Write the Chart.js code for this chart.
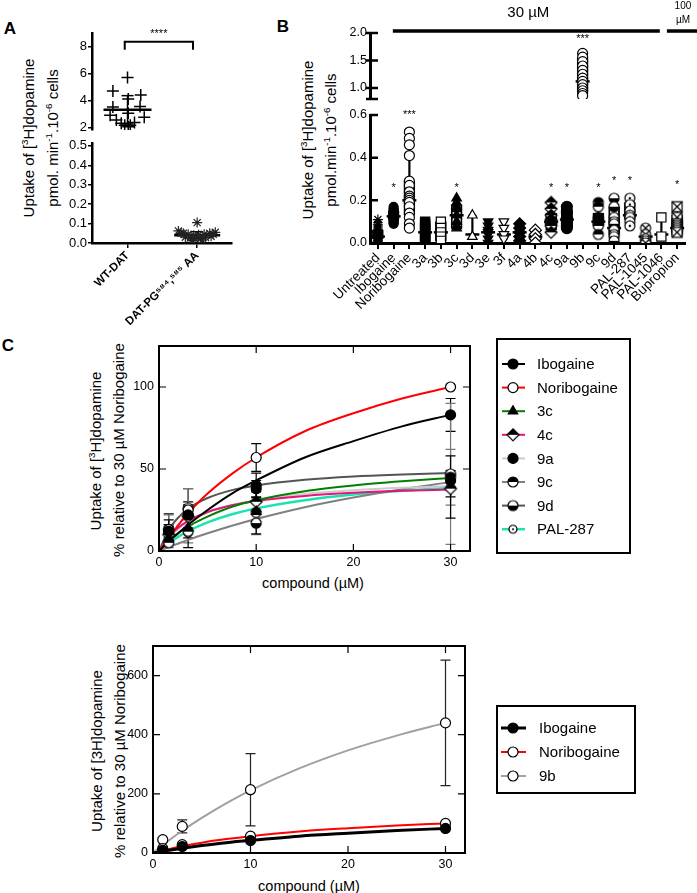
<!DOCTYPE html>
<html><head><meta charset="utf-8">
<script src="https://cdn.jsdelivr.net/npm/chart.js@4.4.1/dist/chart.umd.min.js"></script>
<style>
html,body{margin:0;padding:0;background:#fff;}
#fig{position:relative;width:697px;height:893px;overflow:hidden;background:#fff;font-family:"Liberation Sans",Arial,sans-serif;color:#000;}
canvas{position:absolute;}
.t{position:absolute;white-space:nowrap;line-height:1;transform:translate(-50%,-50%);}
.v{position:absolute;white-space:nowrap;line-height:1;transform:translate(-50%,-50%) rotate(-90deg);font-size:15px;}
.p{font-weight:bold;font-size:17px;}
sup{font-size:0.65em;vertical-align:0.55em;line-height:0;}
</style></head><body><div id="fig">
<div class="t p" style="left:10px;top:28px">A</div>
<div class="t p" style="left:283px;top:26px">B</div>
<div class="t p" style="left:8px;top:345px">C</div>
<div class="v" style="left:28px;top:138px">Uptake of [<sup>3</sup>H]dopamine</div>
<div class="v" style="left:52px;top:138px">pmol. min<sup>-1</sup>.10<sup>-6</sup> cells</div>
<div class="v" style="left:307px;top:140px">Uptake of [<sup>3</sup>H]dopamine</div>
<div class="v" style="left:330px;top:140px">pmol.min<sup>-1</sup>.10<sup>-6</sup> cells</div>
<div class="v" style="left:95px;top:451px">Uptake of [<sup>3</sup>H]dopamine</div>
<div class="v" style="left:118px;top:450px">% relative to 30 µM Noribogaine</div>
<div class="t" style="left:313px;top:583px;font-size:14.5px">compound (µM)</div>
<div class="v" style="left:96px;top:751px">Uptake of [3H]dopamine</div>
<div class="v" style="left:119px;top:751px">% relative to 30 µM Noribogaine</div>
<div class="t" style="left:309px;top:886px;font-size:14.5px">compound (µM)</div>
</div>
<script>
// ================= DATA =================
// ---- Panel A ----
const aCats = ['WT-DAT', 'DAT-PG⁵⁸⁴,⁵⁸⁵ AA'];
const wtX = [1.00,0.79,1.19,1.01,0.79,1.18,1.01,0.75,1.24,0.84,0.91,1.10,0.96,1.04,1.01];
const wtY = [5.7,4.7,4.4,4.1,3.5,3.55,3.05,2.9,2.75,2.55,2.3,2.35,2.15,2.15,2.05];
const datX = [1.73,1.80,1.87,1.95,2.02,2.10,2.18,2.26,1.83,1.90,1.97,2.05,2.12,2.20,1.93,2.00,2.07,1.77,2.23];
const datY = [0.062,0.05,0.045,0.04,0.042,0.045,0.05,0.055,0.03,0.025,0.02,0.022,0.028,0.035,0.012,0.105,0.015,0.05,0.045];
const aMean = [3.3, 0.04];
const aSdLo = [2.25, 0.025];
const aSdHi = [4.35, 0.058];
const aUpTicks = [2,4,6,8];
const aLoTicks = [0,0.1,0.2,0.3,0.4,0.5];

// ---- Panel B ----
const bCats = ['Untreated','Ibogaine','Noribogaine','3a','3b','3c','3d','3e','3f','4a','4b','4c','9a','9b','9c','9d','PAL-287','PAL-1045','PAL-1046','Bupropion'];
const ptsUntreated = [0.11,0.095,0.085,0.075,0.065,0.06,0.05,0.045,0.04,0.035,0.03,0.03,0.025,0.02,0.015,0.01,0.005,0];
const ptsIbogaine = [0.17,0.16,0.155,0.15,0.145,0.14,0.135,0.13,0.125,0.12,0.115,0.11,0.105,0.1,0.095,0.09];
const ptsNoribogaine = [0.52,0.49,0.46,0.41,0.29,0.27,0.24,0.22,0.21,0.2,0.19,0.17,0.14,0.12,0.09,0.07];
const pts3a = [0.1,0.09,0.08,0.07,0.06,0.05,0.04,0.03,0.02,0.01,0];
const pts3b = [0.1,0.07,0.05,0.03,0.01];
const pts3c = [0.21,0.19,0.17,0.16,0.13,0.1,0.08,0.07];
const pts3d = [0.13,0.03];
const pts3e = [0.1,0.08,0.06,0.05,0.04,0.02,0];
const pts3f = [0.1,0.07,0.04,0.02];
const pts4a = [0.09,0.07,0.05,0.03,0.01];
const pts4b = [0.06,0.04,0.02,0];
const pts4c = [0.19,0.16,0.13,0.11,0.1,0.09,0.08,0.05];
const pts9a = [0.17,0.15,0.14,0.12,0.1,0.09,0.08,0.07];
const pts9b = [1.63,1.56,1.48,1.4,1.32,1.25,1.18,1.12,1.06,1.0,0.95,0.9,0.86];
const pts9c = [0.19,0.17,0.12,0.11,0.1,0.09,0.08,0.04];
const pts9d = [0.21,0.17,0.12,0.1,0.09,0.06,0.04,0.03,0.01];
const ptsPAL287 = [0.21,0.18,0.15,0.13,0.12,0.1,0.08];
const ptsPAL1045 = [0.07,0.04,0.02,0.01,0];
const ptsPAL1046 = [0.12,0.03];
const ptsBupropion = [0.17,0.12,0.09,0.08,0.07,0.06,0.05];
const bPts = [ptsUntreated,ptsIbogaine,ptsNoribogaine,pts3a,pts3b,pts3c,pts3d,pts3e,pts3f,pts4a,pts4b,pts4c,pts9a,pts9b,pts9c,pts9d,ptsPAL287,ptsPAL1045,ptsPAL1046,ptsBupropion];
const bMed   = [0.03,0.125,0.2,0.05,0.05,0.13,0.04,0.05,0.04,0.05,0.03,0.1,0.11,1.12,0.1,0.07,0.13,0.03,0.04,0.07];
const bWhLo  = [0,0.09,0.07,0,0.01,0.07,0.04,0,0.02,0.01,0,0.04,0.07,0.86,0.04,0.01,0.08,0,0.04,0.05];
const bWhHi  = [0.1,0.17,0.52,0.1,0.1,0.2,0.13,0.1,0.1,0.09,0.06,0.19,0.17,1.63,0.19,0.21,0.21,0.07,0.12,0.17];
const bBoxLo = [0.02,0.11,0.13,null,0.01,0.07,null,null,null,null,null,0.06,0.08,0.93,0.08,0.04,0.11,null,null,0.05];
const bBoxHi = [0.06,0.15,0.29,null,0.1,0.18,null,null,null,null,null,0.14,0.14,1.55,0.14,0.17,0.19,null,null,0.13];
const bSig   = ['','*','***','','','*','','','','','','*','*','***','*','*','*','','','*'];
const bSigY  = [null,0.26,0.6,null,null,0.26,null,null,null,null,null,0.26,0.26,1.9,0.26,0.29,0.29,null,null,0.27];
const bUpTicks = [0.8,1.0,1.5,2.0];
const bLoTicks = [0,0.2,0.4,0.6];

// ---- Panel C ----
const cNames = ['Ibogaine','Noribogaine','3c','4c','9a','9c','9d','PAL-287'];
const cX = [1,3,10,30];
const cIbo = [12,22,40,83];     const eIbo = [4,6,7.5,10];
const cNori = [13,25,57,100];   const eNori = [9.6,13,8.5,0];
const c3c = [8,14,24,44];       const e3c = [4,6,6,5];
const c4c = [10,21,30,38];      const e4c = [5,7,6,5];
const c9a = [11,22,38,43];      const e9a = [5,8,5,4];
const c9c = [5,12,23.5,45];     const e9c = [3,7,6,17];
const c9d = [13,26,17,47];      const e9d = [9,12,7,43];
const cPal = [13,11,16.5,39];   const ePal = [6,9,6,19];
const fitX = [0,1,2,3,5,7.5,10,15,20,25,30];
const fIbo = [0,6,11,16,25,35,43,57,67,76,83];
const fNori = [0,8,16,23,35,47,57,73,84,93,100];
const f3c = [0,6,11,15,21,27,31,36.5,40,42.5,44.5];
const f4c = [0,8.7,14.4,18.4,23.8,27.9,30.5,33.6,35.5,36.7,37.5];
const f9a = [0,8,13.6,17.7,23.5,28,31,34.8,37,38.5,39.5];
const f9c = [0,2.4,4.6,6.8,10.8,15.4,19.5,26.7,32.6,37.7,42];
const f9d = [0,12.8,20.5,25.8,32.3,37.1,40,43.4,45.4,46.6,47.5];
const fPal = [0,4.8,8.8,12.2,17.5,22.4,26,31,34.4,36.7,38.5];
const cXTicks = [0,10,20,30];
const cYTicks = [0,50,100];

// ---- Bottom panel ----
const dNames = ['Ibogaine','Noribogaine','9b'];
const dIbo = [9,22,42,83];
const dNori = [15,28,57,100];
const d9b = [45,90,214,440];   const e9b = [0,22,122,212];
const f9b = [0,26.5,51.6,75.4,119,168,212,286,347,397,440];
const dYTicks = [0,200,400,600];

// ================= HELPERS =================
const FONT = '"Liberation Sans", Arial, sans-serif';
Chart.defaults.font.family = FONT;
Chart.defaults.color = '#000';
Chart.defaults.animation = false;
Chart.defaults.events = [];
Chart.defaults.plugins.legend.display = false;
Chart.defaults.plugins.tooltip.enabled = false;

function mkCanvas(left, top, w, h){
  const c = document.createElement('canvas');
  c.width = w; c.height = h;
  c.style.left = left+'px'; c.style.top = top+'px';
  c.style.width = w+'px'; c.style.height = h+'px';
  document.getElementById('fig').appendChild(c);
  return c;
}
const fixedTicks = vals => s => { s.ticks = vals.map(v => ({value: v})); };
const yFit = w => s => { s.width = w; s.paddingTop = 0; s.paddingBottom = 0; };
const xFit = h => s => { s.height = h; s.paddingLeft = 0; s.paddingRight = 0; };

function ptCanvas(r, draw){
  const s = Math.ceil(2*r + 4);
  const c = document.createElement('canvas'); c.width = s; c.height = s;
  const g = c.getContext('2d'); g.translate(s/2, s/2);
  g.lineWidth = 1.2; g.strokeStyle = '#000';
  draw(g, r); return c;
}
const halfDiamond = ptCanvas(6, (g,r)=>{
  g.beginPath(); g.moveTo(0,-r); g.lineTo(r,0); g.lineTo(0,r); g.lineTo(-r,0); g.closePath(); g.fillStyle='#fff'; g.fill();
  g.beginPath(); g.moveTo(0,-r); g.lineTo(r,0); g.lineTo(-r,0); g.closePath(); g.fillStyle='#000'; g.fill();
  g.beginPath(); g.moveTo(0,-r); g.lineTo(r,0); g.lineTo(0,r); g.lineTo(-r,0); g.closePath(); g.stroke();
});
function halfCirc(topBlack){
  return ptCanvas(5, (g,r)=>{
    g.beginPath(); g.arc(0,0,r,0,2*Math.PI); g.fillStyle='#fff'; g.fill();
    g.beginPath(); if (topBlack) g.arc(0,0,r,Math.PI,2*Math.PI); else g.arc(0,0,r,0,Math.PI); g.closePath(); g.fillStyle='#000'; g.fill();
    g.beginPath(); g.arc(0,0,r,0,2*Math.PI); g.stroke();
  });
}
const halfTop = halfCirc(true), halfBot = halfCirc(false);
const circDot = ptCanvas(5, (g,r)=>{
  g.beginPath(); g.arc(0,0,r,0,2*Math.PI); g.fillStyle='#fff'; g.fill(); g.stroke();
  g.beginPath(); g.arc(0,0,1.2,0,2*Math.PI); g.fillStyle='#000'; g.fill();
});
const circDotSmall = ptCanvas(4, (g,r)=>{
  g.beginPath(); g.arc(0,0,r,0,2*Math.PI); g.fillStyle='#fff'; g.fill(); g.stroke();
  g.beginPath(); g.arc(0,0,1,0,2*Math.PI); g.fillStyle='#000'; g.fill();
});
const circX = ptCanvas(5, (g,r)=>{
  g.beginPath(); g.arc(0,0,r,0,2*Math.PI); g.fillStyle='#fff'; g.fill(); g.stroke();
  const d = r*0.7; g.beginPath(); g.moveTo(-d,-d); g.lineTo(d,d); g.moveTo(d,-d); g.lineTo(-d,d); g.stroke();
});
const sqX = ptCanvas(5, (g,r)=>{
  g.fillStyle='#fff'; g.fillRect(-r,-r,2*r,2*r); g.strokeRect(-r,-r,2*r,2*r);
  g.beginPath(); g.moveTo(-r,-r); g.lineTo(r,r); g.moveTo(r,-r); g.lineTo(-r,r); g.stroke();
});

const bStyle = [
  {ps:'star', fill:'#000', r:5},
  {ps:'circle', fill:'#000', r:4.5},
  {ps:'circle', fill:'#fff', r:5},
  {ps:'rect', fill:'#000', r:6.5},
  {ps:'rect', fill:'#fff', r:6.5},
  {ps:'triangle', fill:'#000', r:5.5},
  {ps:'triangle', fill:'#fff', r:5.5},
  {ps:'triangle', fill:'#000', r:5.5, rot:180},
  {ps:'triangle', fill:'#fff', r:5.5, rot:180},
  {ps:'rectRot', fill:'#000', r:6},
  {ps:'rectRot', fill:'#fff', r:6},
  {ps:halfDiamond, fill:'#000', r:6},
  {ps:'circle', fill:'#000', r:5.5},
  {ps:'circle', fill:'#fff', r:5},
  {ps:halfTop, fill:'#000', r:5},
  {ps:halfBot, fill:'#000', r:5},
  {ps:circDot, fill:'#fff', r:5},
  {ps:circX, fill:'#fff', r:5},
  {ps:'rect', fill:'#fff', r:6.5},
  {ps:sqX, fill:'#fff', r:5}
];

// plugins (factories)
function notes(items){
  return { id:'notes', afterDraw(chart){
    const ctx = chart.ctx, xs = chart.scales.x, ys = chart.scales.y;
    ctx.save();
    items.forEach(it => {
      if (it.type === 'line') {
        ctx.strokeStyle = '#000'; ctx.lineWidth = it.lw || 1.5; ctx.beginPath();
        it.pts.forEach((p,k) => { const X = xs.getPixelForValue(p[0]), Y = ys.getPixelForValue(p[1]); k ? ctx.lineTo(X,Y) : ctx.moveTo(X,Y); });
        ctx.stroke();
      } else {
        ctx.fillStyle = '#000'; ctx.font = it.font; ctx.textAlign = 'center'; ctx.textBaseline = 'middle';
        ctx.fillText(it.text, xs.getPixelForValue(it.x), ys.getPixelForValue(it.y));
      }
    });
    ctx.restore();
  }};
}
function inTicks(cfg){
  return { id:'inTicks', afterDatasetsDraw(chart){
    const ctx = chart.ctx, a = chart.chartArea, xs = chart.scales.x, ys = chart.scales.y;
    ctx.save(); ctx.strokeStyle = '#000';
    if (cfg.frame) { ctx.lineWidth = cfg.frame; ctx.strokeRect(a.left, a.top, a.right-a.left, a.bottom-a.top); }
    ctx.lineWidth = cfg.lw; const L = cfg.len;
    ctx.beginPath();
    if (cfg.sides.includes('l') || cfg.sides.includes('r')) ys.ticks.forEach(t => {
      const y = ys.getPixelForValue(t.value);
      if (cfg.skipEdges && (y >= a.bottom-1 || y <= a.top+1)) return;
      if (cfg.sides.includes('l')) { ctx.moveTo(a.left - (cfg.over||0), y); ctx.lineTo(a.left + L, y); }
      if (cfg.sides.includes('r')) { ctx.moveTo(a.right, y); ctx.lineTo(a.right - L, y); }
    });
    if (cfg.sides.includes('t') || cfg.sides.includes('b')) xs.ticks.forEach(t => {
      const x = xs.getPixelForValue(t.value);
      if (cfg.skipEdges && (x <= a.left+1 || x >= a.right-1)) return;
      if (cfg.sides.includes('b')) { ctx.moveTo(x, a.bottom); ctx.lineTo(x, a.bottom - L); }
      if (cfg.sides.includes('t')) { ctx.moveTo(x, a.top); ctx.lineTo(x, a.top + L); }
    });
    ctx.stroke(); ctx.restore();
  }};
}
const errBars = { id:'errBars', beforeDatasetsDraw(chart){
  const ctx = chart.ctx, xs = chart.scales.x, ys = chart.scales.y;
  chart.data.datasets.forEach(d => {
    if (!d.errors) return;
    ctx.save(); ctx.strokeStyle = d.errColor || '#000'; ctx.lineWidth = 1.2; ctx.beginPath();
    d.data.forEach((p,i) => {
      const e = d.errors[i]; if (!e) return;
      const x = xs.getPixelForValue(p.x), y1 = ys.getPixelForValue(p.y - e), y2 = ys.getPixelForValue(p.y + e);
      ctx.moveTo(x,y1); ctx.lineTo(x,y2);
      ctx.moveTo(x-5,y1); ctx.lineTo(x+5,y1); ctx.moveTo(x-5,y2); ctx.lineTo(x+5,y2);
    });
    ctx.stroke(); ctx.restore();
  });
}};
function drawMarker(ctx, d, x, y){
  ctx.fillStyle = d.pointBackgroundColor || '#000';
  ctx.strokeStyle = d.pointBorderColor || '#000';
  ctx.lineWidth = d.pointBorderWidth || 1.2;
  const opts = {pointStyle: d.pointStyle, radius: d.pointRadius, borderWidth: d.pointBorderWidth || 1.2, rotation: d.pointRotation || 0};
  if (Chart.helpers && Chart.helpers.drawPoint) Chart.helpers.drawPoint(ctx, opts, x, y);
  else { ctx.beginPath(); ctx.arc(x, y, d.pointRadius, 0, 2*Math.PI); ctx.fill(); ctx.stroke(); }
}
function boxLegend(cfg){
  return { id:'boxLegend', afterDraw(chart){
    const ctx = chart.ctx, ox = cfg.ox, oy = cfg.oy;
    ctx.save();
    ctx.strokeStyle = '#000'; ctx.lineWidth = 2;
    ctx.strokeRect(cfg.x0-ox, cfg.y0-oy, cfg.x1-cfg.x0, cfg.y1-cfg.y0);
    const items = chart.data.datasets.filter(d => d.legendColor);
    items.forEach((d,i) => {
      const y = cfg.first + i*cfg.step - oy;
      ctx.strokeStyle = d.legendColor; ctx.lineWidth = d.legendWidth || 2;
      ctx.beginPath(); ctx.moveTo(cfg.lx0-ox, y); ctx.lineTo(cfg.lx1-ox, y); ctx.stroke();
      drawMarker(ctx, d, cfg.mx-ox, y);
      ctx.fillStyle = '#000'; ctx.font = '15px ' + FONT; ctx.textAlign = 'left'; ctx.textBaseline = 'middle';
      ctx.fillText(d.label, cfg.tx-ox, y + 1);
    });
    ctx.restore();
  }};
}
const baseOpts = (pad) => ({responsive:false, maintainAspectRatio:false, devicePixelRatio:1, layout:{padding:pad, autoPadding:false}});

// ================= PANEL A =================
new Chart(mkCanvas(60,20,180,115), {
  type:'scatter',
  data:{datasets:[
    {label:aCats[0], data: wtX.map((x,i)=>({x, y:wtY[i]})), pointStyle:'cross', pointRadius:6, pointBorderWidth:1.5, pointBorderColor:'#000', order:0},
    {label:'mean', data:[{x:1, y:aMean[0]}], pointStyle:'line', pointRadius:24, pointBorderWidth:2.5, pointBorderColor:'#000', order:1},
    {label:'sd', data:[{x:1, y:aSdLo[0]},{x:1, y:aSdHi[0]}], showLine:true, borderColor:'#000', borderWidth:1.5, pointStyle:'line', pointRadius:6, pointBorderWidth:1.5, pointBorderColor:'#000', order:2},
    {label:'bracket', data:[{x:0.96,y:7.75},{x:0.96,y:8.35},{x:1.94,y:8.35},{x:1.94,y:7.75}], showLine:true, borderColor:'#000', borderWidth:2, pointRadius:0, clip:false, order:3}
  ]},
  options:{...baseOpts({top:13,right:8,bottom:5,left:0}),
    scales:{
      x:{type:'linear', min:0.49, max:2.5, display:false},
      y:{min:1.8, max:9, afterBuildTicks:fixedTicks(aUpTicks), afterFit:yFit(32),
         ticks:{font:{size:13}, padding:1, callback:v=>String(v)},
         grid:{drawOnChartArea:false, tickLength:4, color:'#000', lineWidth:1.5},
         border:{color:'#000', width:2.5}}
    }},
  plugins:[notes([{type:'text', x:1.45, y:8.92, text:'****', font:'11px '+FONT}])]
});

new Chart(mkCanvas(60,138,180,197), {
  type:'scatter',
  data:{datasets:[
    {label:aCats[1], data: datX.map((x,i)=>({x, y:datY[i]})), pointStyle:'star', pointRadius:5, pointBorderWidth:1.2, pointBorderColor:'#222', order:0},
    {label:'mean', data:[{x:2, y:aMean[1]}], pointStyle:'line', pointRadius:23, pointBorderWidth:2.5, pointBorderColor:'#000', order:1},
    {label:'sd', data:[{x:2, y:aSdLo[1]},{x:2, y:aSdHi[1]}], showLine:true, borderColor:'#000', borderWidth:1.5, pointStyle:'line', pointRadius:6, pointBorderWidth:1.5, pointBorderColor:'#000', order:2}
  ]},
  options:{...baseOpts({top:5,right:8,bottom:0,left:0}),
    scales:{
      x:{type:'linear', min:0.49, max:2.5, afterBuildTicks:fixedTicks([1,2]), afterFit:xFit(92),
         ticks:{font:{size:11.5, weight:'bold'}, maxRotation:45, minRotation:45, autoSkip:false, padding:1, callback:v=>aCats[Math.round(v)-1]},
         grid:{drawOnChartArea:false, tickLength:5, color:'#000', lineWidth:1.5},
         border:{color:'#000', width:2.5}},
      y:{min:0, max:0.515, afterBuildTicks:fixedTicks(aLoTicks), afterFit:yFit(32),
         ticks:{font:{size:13}, padding:1, callback:v=>v.toFixed(1)},
         grid:{drawOnChartArea:false, tickLength:4, color:'#000', lineWidth:1.5},
         border:{color:'#000', width:2.5}}
    }}
});

// ================= PANEL B =================
function bDatasets(sel){
  const ds = [];
  const idx = bCats.map((c,i)=>i).filter(sel);
  idx.forEach(i => {
    const st = bStyle[i];
    ds.push({label:bCats[i], data:bPts[i].map(v=>({x:i, y:v})), pointStyle:st.ps, pointRadius:st.r, pointRotation:st.rot||0,
      pointBackgroundColor:st.fill, pointBorderColor:'#000', pointBorderWidth:1.2, order:0});
  });
  ds.push({label:'median', data:idx.map(i=>({x:i, y:bMed[i]})), pointStyle:'line', pointRadius:7, pointBorderWidth:2.5, pointBorderColor:'#000', order:1});
  ds.push({label:'caps', data:idx.flatMap(i=>[{x:i, y:bWhLo[i]},{x:i, y:bWhHi[i]}]), pointStyle:'line', pointRadius:4, pointBorderWidth:1.2, pointBorderColor:'#000', order:2});
  ds.push({type:'bar', label:'box', data:idx.filter(i=>bBoxLo[i]!==null).map(i=>({x:i, y:[bBoxLo[i], bBoxHi[i]]})),
    barThickness:11, borderWidth:1.2, borderColor:'#000', backgroundColor:'rgba(255,255,255,0)', borderSkipped:false, grouped:false, order:3});
  ds.push({type:'bar', label:'range', data:idx.map(i=>({x:i, y:[bWhLo[i], bWhHi[i]]})),
    barThickness:1.5, borderWidth:0, backgroundColor:'#000', borderSkipped:false, grouped:false, order:4});
  return ds;
}
function sigNotes(sel){
  return bCats.map((c,i)=>i).filter(i => sel(i) && bSig[i]).map(i => ({type:'text', x:i, y:bSigY[i], text:bSig[i], font:'11px '+FONT}));
}
const isUpper = i => bMed[i] > 0.7;
const isLower = i => !isUpper(i);
const bX = {type:'linear', min:-0.5, max:19.5, offset:false};
const bYCommon = (ticks, fmt) => ({afterBuildTicks:fixedTicks(ticks), afterFit:yFit(70),
  ticks:{font:{size:12.5}, padding:3, callback:fmt},
  grid:{display:false, drawTicks:false}, border:{color:'#000', width:3}});

new Chart(mkCanvas(300,0,397,102), {
  type:'scatter',
  data:{datasets:bDatasets(isUpper)},
  options:{...baseOpts({top:33,right:12,bottom:3,left:0}),
    scales:{
      x:{...bX, display:false, grid:{offset:false}},
      y:{min:0.8, max:2.0, ...bYCommon(bUpTicks, v => v < 0.9 ? '' : v.toFixed(1))}
    }},
  plugins:[inTicks({sides:['l'], len:8, lw:2.5, over:4}),
    notes([
      {type:'line', pts:[[0.95,2.036],[17.9,2.036]], lw:3.5},
      {type:'line', pts:[[18.35,2.036],[20.3,2.036]], lw:3.5},
      {type:'text', x:9.55, y:2.364, text:'30 µM', font:'15px '+FONT},
      {type:'text', x:19.37, y:2.49, text:'100', font:'10px '+FONT},
      {type:'text', x:19.37, y:2.236, text:'µM', font:'10px '+FONT}
    ].concat(sigNotes(isUpper)))]
});

new Chart(mkCanvas(300,105,397,215), {
  type:'scatter',
  data:{datasets:bDatasets(isLower)},
  options:{...baseOpts({top:10,right:12,bottom:0,left:0}),
    scales:{
      x:{...bX, afterBuildTicks:fixedTicks(bCats.map((c,i)=>i)), afterFit:xFit(77),
         ticks:{font:{size:13.5}, maxRotation:45, minRotation:45, autoSkip:false, padding:1, callback:v=>bCats[Math.round(v)]},
         grid:{drawOnChartArea:false, offset:false, tickLength:6, color:'#000', lineWidth:2},
         border:{color:'#000', width:3}},
      y:{min:0, max:0.6, ...bYCommon(bLoTicks, v => v.toFixed(1))}
    }},
  plugins:[inTicks({sides:['l'], len:8, lw:2.5, skipEdges:false}), notes(sigNotes(isLower))]
});

// ================= PANEL C =================
const cColors = ['#000000','#ff0000','#008000','#e8137a','#cccccc','#808080','#555555','#19e3b1'];
const cMarkers = [
  {ps:'circle', fill:'#000', r:5},
  {ps:'circle', fill:'#fff', r:5},
  {ps:'triangle', fill:'#000', r:5.5},
  {ps:halfDiamond, fill:'#000', r:6},
  {ps:'circle', fill:'#000', r:5},
  {ps:halfTop, fill:'#000', r:5},
  {ps:halfBot, fill:'#000', r:5},
  {ps:circDotSmall, fill:'#fff', r:4}
];
const cErrColors = ['#000','#000','#000','#000','#000','#777','#777','#000'];
const cPts = [cIbo,cNori,c3c,c4c,c9a,c9c,c9d,cPal];
const cErr = [eIbo,eNori,e3c,e4c,e9a,e9c,e9d,ePal];
const cFits = [fIbo,fNori,f3c,f4c,f9a,f9c,f9d,fPal];

function seriesDatasets(names, pts, errs, fits, colors, markers, errColors, widths){
  const ptsDs = names.map((n,s) => ({label:n, data:cX.map((x,i)=>({x, y:pts[s][i]})), errors:errs[s], errColor:errColors[s],
    pointStyle:markers[s].ps, pointRadius:markers[s].r, pointBackgroundColor:markers[s].fill, pointBorderColor:'#000', pointBorderWidth:1.2,
    legendColor:colors[s], legendWidth:widths[s], order:0}));
  const fitDs = names.map((n,s) => ({label:n+' fit', data:fitX.map((x,i)=>({x, y:fits[s][i]})), showLine:true, pointRadius:0,
    borderColor:colors[s], borderWidth:widths[s], cubicInterpolationMode:'monotone', order:1}));
  return ptsDs.concat(fitDs);
}
const frameX = (ticks, h) => ({type:'linear', min:0, max:32, afterBuildTicks:fixedTicks(ticks), afterFit:xFit(h),
  ticks:{font:{size:12.5}, padding:4, maxRotation:0, autoSkip:false, callback:v=>String(v)},
  grid:{display:false, drawTicks:false}, border:{display:false}});
const frameY = (ticks, min, max, w) => ({min, max, afterBuildTicks:fixedTicks(ticks), afterFit:yFit(w),
  ticks:{font:{size:12.5}, padding:5, callback:v=>String(v)},
  grid:{display:false, drawTicks:false}, border:{display:false}});

new Chart(mkCanvas(120,335,530,240), {
  type:'scatter',
  data:{datasets:seriesDatasets(cNames, cPts, cErr, cFits, cColors, cMarkers, cErrColors, [2,2,2,2,2,2,2,2.5])},
  options:{...baseOpts({top:11,right:180,bottom:0,left:0}),
    scales:{x:frameX(cXTicks, 24), y:frameY(cYTicks, 0, 125, 39)}},
  plugins:[errBars, inTicks({frame:2, sides:['l','r','t','b'], len:7, lw:1.2, skipEdges:true}),
    boxLegend({ox:120, oy:335, x0:497, y0:339, x1:630, y1:553, first:364, step:23.6, lx0:502, lx1:525, mx:513, tx:537})]
});

// ================= BOTTOM PANEL =================
new Chart(mkCanvas(115,636,535,240), {
  type:'scatter',
  data:{datasets:seriesDatasets(dNames, [dIbo,dNori,d9b], [null,null,e9b], [fIbo,fNori,f9b], ['#000000','#ff0000','#a0a0a0'],
    [{ps:'circle', fill:'#000', r:5},{ps:'circle', fill:'#fff', r:5},{ps:'circle', fill:'#fff', r:5}], ['#000','#000','#222'], [3,2,2])},
  options:{...baseOpts({top:10,right:185,bottom:0,left:0}),
    scales:{x:frameX(cXTicks, 23), y:frameY(dYTicks, 0, 700, 38)}},
  plugins:[errBars, inTicks({frame:2, sides:['l','r','t','b'], len:7, lw:1.2, skipEdges:true}),
    boxLegend({ox:115, oy:636, x0:497, y0:706, x1:635, y1:793, first:728, step:24, lx0:501, lx1:526, mx:513, tx:539})]
});
</script>
</body></html>
